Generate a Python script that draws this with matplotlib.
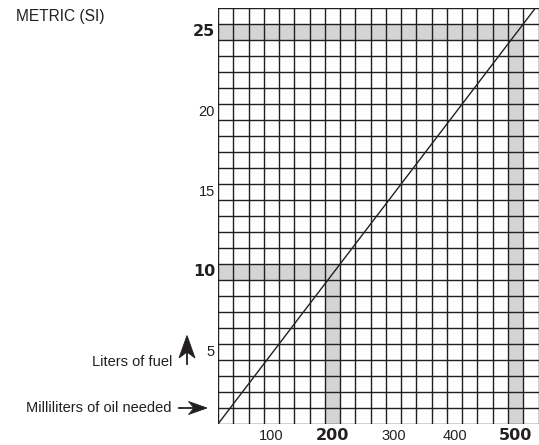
import matplotlib
matplotlib.use("Agg")
import matplotlib.pyplot as plt
from matplotlib.patches import Polygon
from matplotlib.lines import Line2D
import numpy as np

# Data
oil_ml_ticks = [100, 200, 300, 400, 500]
oil_bold = [200, 500]
fuel_l_ticks = [5, 10, 15, 20, 25]
fuel_bold = [10, 25]
ratio_oil = [0, 525]          # ml of oil
ratio_fuel = [0, 26.25]       # liters of fuel (50:1)
highlight_oil = [200, 500]
highlight_fuel = [10, 25]
x_max, y_max = 525, 26
x_step, y_step = 25, 1

W, H = 539, 445
fig = plt.figure(figsize=(W / 100, H / 100), dpi=100)
ax = fig.add_axes([218 / W, 21 / H, (538.5 - 218) / W, 416 / H])
ax.set_xlim(0, x_max)
ax.set_ylim(0, y_max)

shade = "#d4d4d4"
for xo, yf in zip(highlight_oil, highlight_fuel):
    ax.fill_between([0, xo], yf - y_step, yf, color=shade, lw=0, zorder=1)
    ax.fill_between([xo - x_step, xo], 0, yf, color=shade, lw=0, zorder=1)

for xv in np.arange(0, x_max + 0.1, x_step):
    ax.axvline(xv, color="#231f20", lw=1.0, zorder=2)
for yv in np.arange(0, y_max + 0.1, y_step):
    ax.axhline(yv, color="#231f20", lw=1.0, zorder=2)

ax.plot(ratio_oil, ratio_fuel, color="#231f20", lw=1.0, zorder=3, clip_on=True)

for s in ax.spines.values():
    s.set_visible(False)
ax.set_xticks([])
ax.set_yticks([])

reg = dict(family="Liberation Sans", fontsize=10.5, color="#231f20")
bold = dict(family="DejaVu Sans", fontsize=11.5, fontweight="bold", color="#231f20")

for v in oil_ml_ticks:
    kw = bold if v in oil_bold else reg
    ax.text(v - x_step / 2, -0.72, str(v), ha="center", va="center", **kw)
for v in fuel_l_ticks:
    kw = bold if v in fuel_bold else reg
    ax.text(-x_step * 0.2, v - y_step / 2, str(v), ha="right", va="center", **kw)

fig.text(16 / W, 1 - 16 / H, "METRIC (SI)", ha="left", va="center",
         family="Liberation Sans", fontsize=11.2, color="#231f20")
fig.text(172 / W, 1 - 362 / H, "Liters of fuel", ha="right", va="center", **reg)
fig.text(171 / W, 1 - 408 / H, "Milliliters of oil needed", ha="right", va="center", **reg)

def fp(x, y):
    return (x / W, 1 - y / H)

col = "#231f20"
# up arrow (stealth head)
fig.patches.append(Polygon([fp(187, 335.5), fp(195, 358), fp(187, 352), fp(179, 358)],
                           closed=True, transform=fig.transFigure, fc=col, ec=col, lw=0.6))
fig.lines.append(Line2D([187 / W, 187 / W], [1 - 352 / H, 1 - 364 / H],
                        transform=fig.transFigure, color=col, lw=1.3))
# right arrow (stealth head)
fig.patches.append(Polygon([fp(207, 408), fp(188.5, 401.5), fp(194, 408), fp(188.5, 414.5)],
                           closed=True, transform=fig.transFigure, fc=col, ec=col, lw=0.6))
fig.lines.append(Line2D([179 / W, 194 / W], [1 - 408 / H, 1 - 408 / H],
                        transform=fig.transFigure, color=col, lw=1.3))

fig.savefig("out.png", dpi=100)
